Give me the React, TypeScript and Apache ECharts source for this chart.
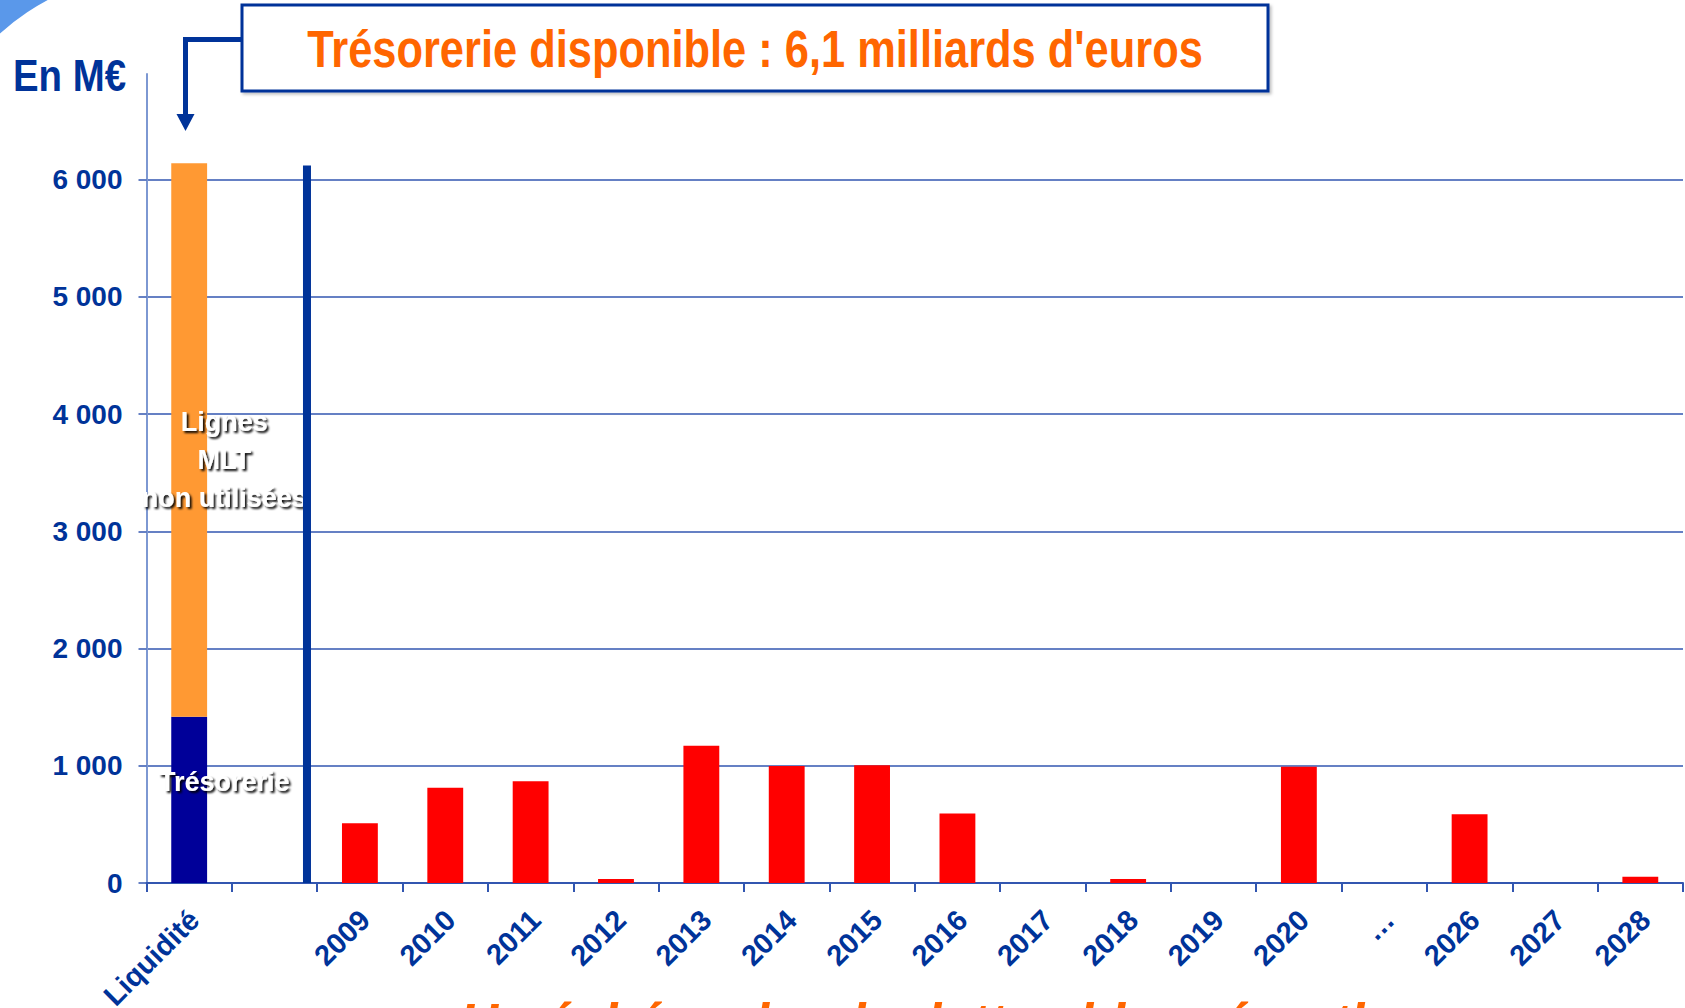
import React, { useEffect, useRef } from 'react';
import * as echarts from 'echarts';

// ---- Data ----
const categories = ['Liquidité', '', '2009', '2010', '2011', '2012', '2013', '2014', '2015', '2016', '2017', '2018', '2019', '2020', '…', '2026', '2027', '2028'];
const tresorerie = [1418, null, null, null, null, null, null, null, null, null, null, null, null, null, null, null, null, null];
const lignesMLT = [4720, null, null, null, null, null, null, null, null, null, null, null, null, null, null, null, null, null];
const echeances = [null, null, 510, 813, 868, 34, 1170, 998, 1005, 593, 0, 34, 0, 992, 0, 586, 0, 54];
const yTickValues = [0, 1000, 2000, 3000, 4000, 5000, 6000];
const separatorLine = [[1.88, 0], [1.88, 6120]];

const titleText = "Trésorerie disponible : 6,1 milliards d'euros";
const unitText = 'En M€';
const bottomText = 'Un échéancier de dettes bien réparti';

const FONT = '"Liberation Sans", Arial, sans-serif';
const DARK_BLUE = '#003399';
const GRID_BLUE = '#3256b0';
const ORANGE_TEXT = '#ff6600';

function fmt(v: number): string {
  return String(v).replace(/\B(?=(\d{3})+(?!\d))/g, ' ');
}

export default function App() {
  const ref = useRef<HTMLDivElement>(null);

  useEffect(() => {
    if (!ref.current) return;
    const chart = echarts.init(ref.current, null, { renderer: 'svg' });

    const labelShadow = {
      textShadowColor: 'rgba(0,0,0,0.95)',
      textShadowBlur: 2,
      textShadowOffsetX: 2,
      textShadowOffsetY: 2,
    };

    chart.setOption({
      animation: false,
      backgroundColor: '#ffffff',
      grid: { left: 146.5, right: 2, top: 74, bottom: 125, containLabel: false, outerBoundsMode: 'none' },
      xAxis: [
        {
          type: 'category',
          data: categories,
          boundaryGap: true,
          axisLine: { show: true, lineStyle: { color: GRID_BLUE, width: 2 } },
          axisTick: { show: true, length: 9, lineStyle: { color: GRID_BLUE, width: 2 } },
          axisLabel: {
            interval: 0,
            rotate: 45,
            margin: 27,
            verticalAlign: 'top',
            lineHeight: 14,
            color: DARK_BLUE,
            fontFamily: FONT,
            fontWeight: 'bold',
            fontSize: 29,
          },
          splitLine: { show: false },
        },
        {
          type: 'value',
          min: 0,
          max: 18,
          show: false,
        },
      ],
      yAxis: {
        type: 'value',
        min: 0,
        max: 6900,
        interval: 1000,
        axisLine: { show: true, lineStyle: { color: '#7d98d2', width: 2 } },
        axisTick: { show: true, length: 8, customValues: yTickValues, lineStyle: { color: GRID_BLUE, width: 1.5 } },
        axisLabel: {
          customValues: yTickValues,
          margin: 24,
          color: DARK_BLUE,
          fontFamily: FONT,
          fontWeight: 'bold',
          fontSize: 28,
          formatter: (v: number) => fmt(v),
        },
        splitLine: { show: true, lineStyle: { color: GRID_BLUE, width: 1.5 } },
      },
      series: [
        {
          name: 'Trésorerie',
          type: 'bar',
          stack: 'total',
          barWidth: '42%',
          data: tresorerie,
          itemStyle: { color: '#000099' },
          label: {
            show: true,
            position: 'inside',
            offset: [35, -18],
            formatter: 'Trésorerie',
            color: '#ffffff',
            fontFamily: FONT,
            fontWeight: 'bold',
            fontSize: 27,
            ...labelShadow,
          },
        },
        {
          name: 'Lignes MLT non utilisées',
          type: 'bar',
          stack: 'total',
          barWidth: '42%',
          data: lignesMLT,
          itemStyle: { color: '#ff9933' },
          label: {
            show: true,
            position: 'inside',
            offset: [35, 20],
            formatter: 'Lignes\nMLT\nnon utilisées',
            lineHeight: 38,
            color: '#ffffff',
            fontFamily: FONT,
            fontWeight: 'bold',
            fontSize: 27,
            ...labelShadow,
          },
        },
        {
          name: 'Échéances',
          type: 'bar',
          stack: 'total',
          barWidth: '42%',
          data: echeances,
          itemStyle: { color: '#ff0000' },
        },
        {
          name: 'separator',
          type: 'line',
          xAxisIndex: 1,
          yAxisIndex: 0,
          data: separatorLine,
          symbol: 'none',
          lineStyle: { color: DARK_BLUE, width: 8, cap: 'butt' },
          z: 5,
        },
      ],
      graphic: [
        {
          type: 'sector',
          shape: { cx: 160, cy: 211, r0: 239, r: 380, startAngle: Math.PI, endAngle: Math.PI * 1.5 },
          style: {
            fill: new echarts.graphic.RadialGradient(0.5, 0.5, 0.5, [
              { offset: 0.63, color: '#5a98ea' },
              { offset: 0.67, color: '#1463d2' },
              { offset: 1, color: '#0a55c4' },
            ]),
          },
          z: 0,
        },
        {
          type: 'rect',
          shape: { x: 242, y: 5, width: 1026, height: 86 },
          style: {
            fill: '#ffffff',
            stroke: DARK_BLUE,
            lineWidth: 3,
            shadowBlur: 3,
            shadowOffsetX: 2,
            shadowOffsetY: 2,
            shadowColor: 'rgba(0,0,0,0.25)',
          },
          z: 10,
        },
        {
          type: 'text',
          x: 755,
          y: 49,
          scaleX: 0.835,
          style: {
            text: titleText,
            fill: ORANGE_TEXT,
            fontFamily: FONT,
            fontWeight: 'bold',
            fontSize: 52,
            align: 'center',
            verticalAlign: 'middle',
          },
          z: 11,
        },
        {
          type: 'text',
          x: 13,
          y: 75,
          scaleX: 0.853,
          style: {
            text: unitText,
            fill: DARK_BLUE,
            fontFamily: FONT,
            fontWeight: 'bold',
            fontSize: 45,
            align: 'left',
            verticalAlign: 'middle',
          },
          z: 11,
        },
        {
          type: 'polyline',
          shape: { points: [[242, 39.5], [185.5, 39.5], [185.5, 116]] },
          style: { stroke: DARK_BLUE, lineWidth: 5, fill: 'none' },
          z: 11,
        },
        {
          type: 'polygon',
          shape: { points: [[176.5, 114], [194.5, 114], [185.5, 131]] },
          style: { fill: DARK_BLUE },
          z: 11,
        },
        {
          type: 'text',
          x: 460,
          y: 1024,
          scaleX: 0.875,
          style: {
            text: bottomText,
            fill: ORANGE_TEXT,
            fontFamily: FONT,
            fontWeight: 'bold',
            fontStyle: 'italic',
            fontSize: 60,
            align: 'left',
            verticalAlign: 'middle',
          },
          z: 11,
        },
      ],
    });

    return () => {
      chart.dispose();
    };
  }, []);

  return (
    <div
      ref={ref}
      style={{ position: 'absolute', left: 0, top: 0, width: 1685, height: 1008, background: '#ffffff' }}
    />
  );
}
